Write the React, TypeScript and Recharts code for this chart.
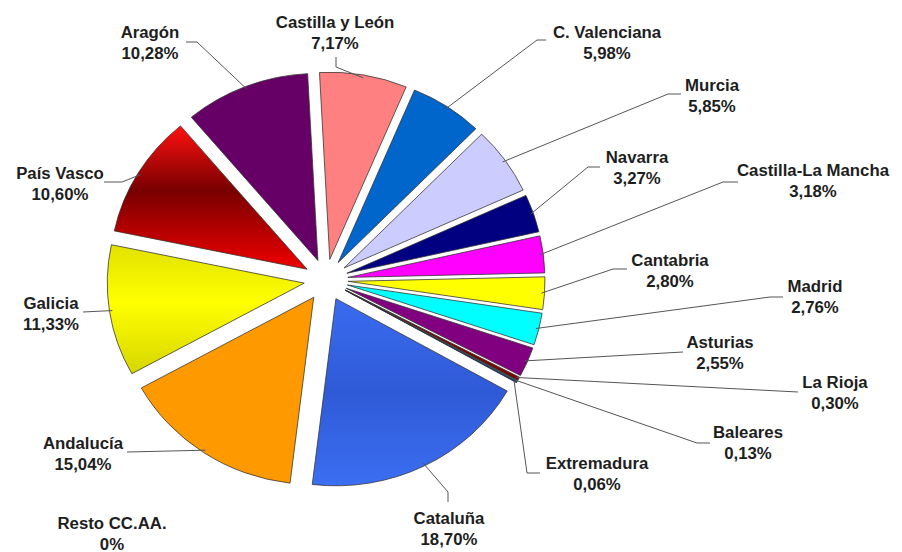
import { PieChart, Pie, Sector } from 'recharts';

// Shares by region, clockwise from 12 o'clock
const regions = [
  'Castilla y León',
  'C. Valenciana',
  'Murcia',
  'Navarra',
  'Castilla-La Mancha',
  'Cantabria',
  'Madrid',
  'Asturias',
  'La Rioja',
  'Baleares',
  'Extremadura',
  'Cataluña',
  'Andalucía',
  'Resto CC.AA.',
  'Galicia',
  'País Vasco',
  'Aragón',
];
const shares = [7.17, 5.98, 5.85, 3.27, 3.18, 2.8, 2.76, 2.55, 0.3, 0.13, 0.06, 18.7, 15.04, 0, 11.33, 10.6, 10.28];

const data = regions.map((name, i) => ({ name, value: shares[i] }));

const COLORS = [
  '#FF8080', '#0066CC', '#CCCCFF', '#000080', '#FF00FF', '#FFFF00', '#00FFFF', '#800080',
  '#800000', '#008080', '#0000FF', 'url(#cataluna)', '#FF9900', '#999999', 'url(#galicia)', 'url(#pvasco)', '#660066',
];

// label placement: centre of the name line, then the elbow points of the leader line
const LABELS: { x: number; y: number; line: number[][] }[] = [
  { x: 335, y: 22, line: [[336, 57], [336, 67]] },
  { x: 607, y: 32, line: [[546, 40], [537, 40]] },
  { x: 712, y: 85, line: [[681, 94], [668, 94]] },
  { x: 637, y: 157, line: [[600, 167], [588, 167]] },
  { x: 813, y: 170, line: [[738, 182], [723, 182]] },
  { x: 670, y: 260, line: [[627, 269], [613, 269]] },
  { x: 815, y: 286, line: [[783, 297], [770, 297]] },
  { x: 720, y: 342, line: [[683, 352]] },
  { x: 835, y: 382, line: [[798, 392]] },
  { x: 748, y: 432, line: [[710, 443], [697, 443]] },
  { x: 597, y: 463, line: [[540, 473], [527, 473]] },
  { x: 449, y: 518, line: [[448, 502], [448, 492]] },
  { x: 83, y: 443, line: [[127, 452]] },
  { x: 112, y: 523, line: [] },
  { x: 51, y: 303, line: [[83, 312]] },
  { x: 60, y: 173, line: [[104, 182], [122, 182]] },
  { x: 150, y: 32, line: [[186, 42], [197, 42]] },
];

const RADIAN = Math.PI / 180;
const EXPLODE = 22;
const SQUASH = 0.95;
const FIRST_ANGLE = -3;
const FONT = "'Liberation Sans', Arial, sans-serif";

const fmt = (v: number) => (v === 0 ? '0%' : v.toFixed(2).replace('.', ',') + '%');

function renderSlice(props: any) {
  const { cx, cy, midAngle, startAngle, endAngle, outerRadius, index } = props;
  if (!shares[index]) return null;
  const dx = Math.cos(-midAngle * RADIAN) * EXPLODE;
  const dy = Math.sin(-midAngle * RADIAN) * EXPLODE;
  return (
    <g transform={`translate(0 ${cy * (1 - SQUASH)}) scale(1 ${SQUASH})`}>
      <Sector
        cx={cx + dx}
        cy={cy + dy}
        innerRadius={0}
        outerRadius={outerRadius}
        startAngle={startAngle}
        endAngle={endAngle}
        fill={COLORS[index]}
        stroke="#333"
        strokeWidth={0.8}
      />
    </g>
  );
}

function renderLabel(props: any) {
  const { cx, cy, midAngle, outerRadius, index } = props;
  const lay = LABELS[index];
  const r = outerRadius + EXPLODE - 3;
  const ax = cx + Math.cos(-midAngle * RADIAN) * r;
  const ay = cy + Math.sin(-midAngle * RADIAN) * r * SQUASH;
  const pts = lay.line.length ? [...lay.line, [ax, ay]] : [];
  return (
    <g>
      {pts.length > 0 && (
        <polyline
          points={pts.map((p) => p.join(',')).join(' ')}
          fill="none"
          stroke="#555"
          strokeWidth={1}
        />
      )}
      <text
        x={lay.x}
        y={lay.y}
        textAnchor="middle"
        dominantBaseline="central"
        fontFamily={FONT}
        fontWeight="bold"
        fontSize={16.8}
        fill="#1e1e1e"
      >
        {regions[index]}
      </text>
      <text
        x={lay.x}
        y={lay.y + 21}
        textAnchor="middle"
        dominantBaseline="central"
        fontFamily={FONT}
        fontWeight="bold"
        fontSize={16.8}
        fill="#1e1e1e"
      >
        {fmt(shares[index])}
      </text>
    </g>
  );
}

export default function App() {
  return (
    <div style={{ position: 'absolute', left: 0, top: 0, background: '#fff' }}>
      <PieChart width={902} height={552} margin={{ top: 0, right: 0, bottom: 0, left: 0 }}>
        <defs>
          <linearGradient id="pvasco" x1="0" y1="0" x2="0" y2="1">
            <stop offset="0%" stopColor="#FF1010" />
            <stop offset="45%" stopColor="#780000" />
            <stop offset="100%" stopColor="#F00000" />
          </linearGradient>
          <linearGradient id="galicia" x1="0" y1="0" x2="0" y2="1">
            <stop offset="0%" stopColor="#E2E200" />
            <stop offset="45%" stopColor="#FFFF00" />
            <stop offset="100%" stopColor="#D6D600" />
          </linearGradient>
          <linearGradient id="cataluna" x1="0" y1="0" x2="0" y2="1">
            <stop offset="0%" stopColor="#3A6CF0" />
            <stop offset="50%" stopColor="#2F5AD6" />
            <stop offset="100%" stopColor="#3B6EF2" />
          </linearGradient>
        </defs>
        <Pie
          data={data}
          dataKey="value"
          nameKey="name"
          cx={326}
          cy={280}
          outerRadius={197}
          startAngle={90 - FIRST_ANGLE}
          endAngle={-270 - FIRST_ANGLE}
          fill="none"
          stroke="none"
          labelLine={false}
          label={renderSlice}
          isAnimationActive={false}
        />
        <Pie
          data={data}
          dataKey="value"
          nameKey="name"
          cx={326}
          cy={280}
          outerRadius={197}
          startAngle={90 - FIRST_ANGLE}
          endAngle={-270 - FIRST_ANGLE}
          fill="none"
          stroke="none"
          labelLine={false}
          label={renderLabel}
          isAnimationActive={false}
        />
      </PieChart>
    </div>
  );
}
